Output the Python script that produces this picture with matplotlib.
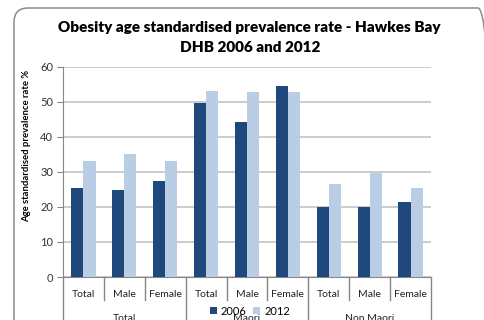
import numpy as np
import matplotlib.pyplot as plt
import matplotlib.patches as patches
import matplotlib.transforms as mtransforms

plt.rcParams['font.family'] = ['Lato', 'DejaVu Sans']

# prevalence data (%)
groups = ['Total', 'Maori', 'Non Maori']
sexes = ['Total', 'Male', 'Female']
rate_2006 = [25.3, 24.8, 27.4, 49.7, 44.3, 54.5, 20.0, 20.0, 21.4]
rate_2012 = [33.2, 35.2, 33.0, 53.1, 52.8, 52.8, 26.5, 29.7, 25.4]

dark = '#1F497D'
light = '#B9CDE5'
axis_grey = '#868686'

fig = plt.figure(figsize=(4.85, 3.2), dpi=100)
ax = fig.add_axes([63/485, 1-277/320, (431-63)/485, (277-66.5)/320])

n = len(rate_2006)
x = np.arange(n)
w = 0.295
ax.bar(x - w/2, rate_2006, w, color=dark, label='2006', zorder=3)
ax.bar(x + w/2, rate_2012, w, color=light, label='2012', zorder=3)

ax.set_xlim(-0.5, n - 0.5)
ax.set_ylim(0, 60)
ax.set_yticks(range(0, 61, 10))
ax.yaxis.grid(True, color='#C8C8C8', linewidth=1.3)
ax.set_axisbelow(True)
ax.tick_params(axis='y', length=4, color=axis_grey, labelsize=8, labelcolor='#333333', pad=3)
ax.set_xticks([])
for s in ['top', 'right']:
    ax.spines[s].set_visible(False)
ax.spines['left'].set_color(axis_grey)
ax.spines['bottom'].set_color(axis_grey)

ax.set_ylabel('Age standardised prevalence rate %', fontsize=6.8, fontweight='bold')
ax.yaxis.set_label_coords(-0.088, 0.62)

# two-level category axis
trans = mtransforms.blended_transform_factory(ax.transData, ax.transAxes)
for i in range(n + 1):
    edge = i - 0.5
    bottom = -0.3 if i % 3 == 0 else -0.11
    ax.plot([edge, edge], [0, bottom], transform=trans, color=axis_grey, lw=1, clip_on=False)
for i in range(n):
    ax.text(x[i], -0.082, sexes[i % 3], transform=trans, ha='center', va='center', fontsize=7.5, color='#222222')
for g, name in enumerate(groups):
    ax.text(3*g + 1, -0.195, name, transform=trans, ha='center', va='center', fontsize=7.5, color='#222222')

fig.legend(loc='center', bbox_to_anchor=(0.515, 0.028), ncol=2, frameon=False, fontsize=8,
           handlelength=0.65, handleheight=0.65, handletextpad=0.35, columnspacing=0.6, borderpad=0)

fig.text(0.515, 1-27/320, 'Obesity age standardised prevalence rate - Hawkes Bay', ha='center', va='center',
         fontsize=11, fontweight='heavy')
fig.text(0.515, 1-48/320, 'DHB 2006 and 2012', ha='center', va='center', fontsize=11, fontweight='heavy')

# rounded chart border
frame = patches.FancyBboxPatch((14, -12), 478, 324, boxstyle='round,pad=0,rounding_size=14',
                               transform=None, fill=False, edgecolor='#8C8C8C', lw=1.1)
fig.patches.append(frame)

fig.savefig('out.png', dpi=100)
